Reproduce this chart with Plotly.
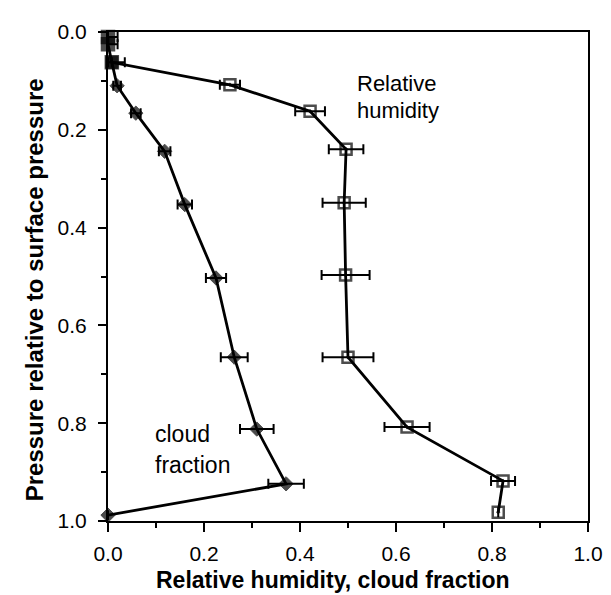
import plotly.graph_objects as go

# Relative humidity profile (x = RH, y = pressure / surface pressure)
rh_pressure = [0.010, 0.025, 0.062, 0.108, 0.162, 0.240, 0.349, 0.497, 0.665, 0.808, 0.918, 0.982]
rh_values = [0.000, 0.000, 0.008, 0.254, 0.421, 0.496, 0.492, 0.495, 0.500, 0.623, 0.823, 0.813]
rh_err_plus = [0.020, 0.020, 0.027, 0.021, 0.031, 0.036, 0.045, 0.050, 0.053, 0.047, 0.025, 0.0]
rh_err_minus = [0.000, 0.000, 0.008, 0.021, 0.031, 0.036, 0.045, 0.050, 0.053, 0.047, 0.025, 0.0]

# Cloud fraction profile
cf_pressure = [0.062, 0.110, 0.166, 0.244, 0.353, 0.503, 0.665, 0.812, 0.924, 0.988]
cf_values = [0.008, 0.019, 0.058, 0.118, 0.160, 0.225, 0.263, 0.310, 0.371, 0.000]
cf_err = [0.0, 0.008, 0.010, 0.012, 0.015, 0.021, 0.028, 0.035, 0.037, 0.0]

tick_vals = [0.0, 0.2, 0.4, 0.6, 0.8, 1.0]
tick_text = ["0.0", "0.2", "0.4", "0.6", "0.8", "1.0"]

FONT = "Liberation Sans, Arial, Helvetica, sans-serif"

rh_symbols = ["square", "square", "square"] + ["square-open-dot"] * (len(rh_values) - 3)
rh_sizes = [12, 12, 12] + [11] * (len(rh_values) - 3)
cf_symbols = ["square"] + ["diamond"] * (len(cf_values) - 1)
cf_sizes = [12] + [11] * (len(cf_values) - 1)

fig = go.Figure()

fig.add_trace(go.Scatter(
    x=cf_values, y=cf_pressure, mode="lines+markers",
    line=dict(color="black", width=2.8),
    marker=dict(symbol=cf_symbols, size=cf_sizes, color="black",
                line=dict(color="black", width=1)),
    error_x=dict(type="data", array=cf_err, color="black", thickness=2, width=5),
    cliponaxis=False, showlegend=False,
))

fig.add_trace(go.Scatter(
    x=rh_values, y=rh_pressure, mode="lines+markers",
    line=dict(color="black", width=2.8),
    marker=dict(symbol=rh_symbols, size=rh_sizes, color="black",
                line=dict(color="black", width=2.5)),
    error_x=dict(type="data", symmetric=False, array=rh_err_plus,
                 arrayminus=rh_err_minus, color="black", thickness=2, width=5),
    cliponaxis=False, showlegend=False,
))

axis_common = dict(
    showline=True, linecolor="black", linewidth=2, mirror=True,
    showgrid=False, zeroline=False,
    ticks="outside", tickcolor="black", tickwidth=2,
    tickvals=tick_vals, ticktext=tick_text,
    tickfont=dict(family=FONT, size=21, color="black"),
    minor=dict(dtick=0.1, tick0=0, ticks="outside", ticklen=5, tickwidth=2,
               tickcolor="black", showgrid=False),
)

fig.update_xaxes(range=[0, 1], ticklen=9, ticklabelstandoff=4, **axis_common)
fig.update_yaxes(range=[1, 0], ticklen=8, ticklabelstandoff=7, **axis_common)

annotations = [
    dict(text="<b>Relative humidity, cloud fraction</b>", xref="paper", yref="paper",
         x=0.469, y=-0.121, showarrow=False, xanchor="center", yanchor="middle",
         font=dict(family=FONT, size=23, color="black")),
    dict(text="<b>Pressure relative to surface pressure</b>", xref="paper", yref="paper",
         x=-0.154, y=0.472, showarrow=False, textangle=-90, xanchor="center", yanchor="middle",
         font=dict(family=FONT, size=24, color="black")),
    dict(text="Relative", x=0.515, y=0.106, xref="x", yref="y", showarrow=False,
         xanchor="left", yanchor="middle", font=dict(family=FONT, size=22, color="black")),
    dict(text="humidity", x=0.515, y=0.161, xref="x", yref="y", showarrow=False,
         xanchor="left", yanchor="middle", font=dict(family=FONT, size=22, color="black")),
    dict(text="cloud", x=0.094, y=0.823, xref="x", yref="y", showarrow=False,
         xanchor="left", yanchor="middle", font=dict(family=FONT, size=23, color="black")),
    dict(text="fraction", x=0.094, y=0.885, xref="x", yref="y", showarrow=False,
         xanchor="left", yanchor="middle", font=dict(family=FONT, size=23, color="black")),
]

fig.update_layout(
    width=611, height=595,
    margin=dict(l=100, r=31, t=15, b=82),
    paper_bgcolor="white", plot_bgcolor="white",
    annotations=annotations,
    font=dict(family=FONT, color="black"),
)

fig.write_html("out.html")
